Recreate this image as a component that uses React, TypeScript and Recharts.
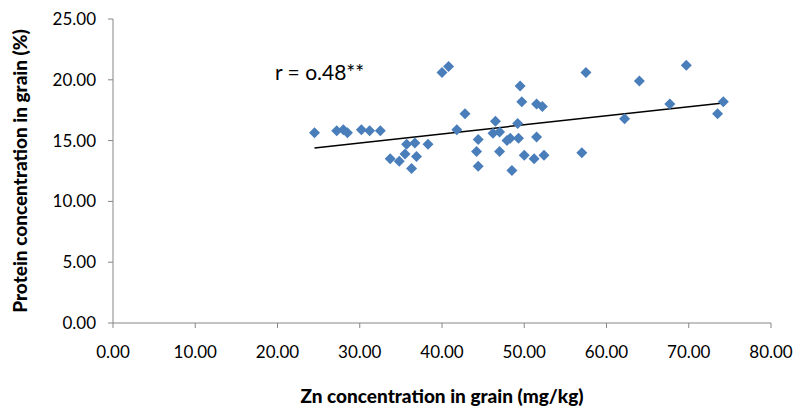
import { ScatterChart, Scatter, XAxis, YAxis, ReferenceLine } from 'recharts'

// Zn in grain (mg/kg) vs protein in grain (%)
const zn = [
  24.5, 27.2, 28.0, 28.5, 30.2, 31.2, 32.5, 33.7, 34.8, 35.5,
  35.7, 36.3, 36.7, 36.9, 38.3, 40.0, 40.8, 41.8, 42.8, 44.2,
  44.4, 44.4, 46.2, 46.5, 47.0, 47.0, 47.9, 48.3, 48.5, 49.2,
  49.3, 49.5, 49.7, 50.0, 51.2, 51.5, 51.5, 52.2, 52.4, 57.0,
  57.5, 62.2, 64.0, 67.7, 69.7, 73.5, 74.2,
]
const protein = [
  15.65, 15.8, 15.9, 15.65, 15.9, 15.8, 15.8, 13.5, 13.3, 13.9,
  14.7, 12.7, 14.8, 13.7, 14.7, 20.6, 21.1, 15.9, 17.2, 14.1,
  15.1, 12.9, 15.6, 16.6, 15.7, 14.1, 15.0, 15.2, 12.55, 16.4,
  15.2, 19.5, 18.2, 13.8, 13.5, 15.3, 18.0, 17.8, 13.8, 14.0,
  20.6, 16.8, 19.9, 18.0, 21.2, 17.2, 18.2,
]

// linear trend end points
const trendX = [24.5, 74.2]
const trendY = [14.4, 18.1]

const xTicks = [0, 10, 20, 30, 40, 50, 60, 70, 80]
const yTicks = [0, 5, 10, 15, 20, 25]

const points = zn.map((x, i) => ({ x, y: protein[i] }))

const FONT = 'Lato, "Open Sans", sans-serif'
const AXIS = '#868686'

function Diamond(props: { cx?: number; cy?: number }) {
  const { cx = 0, cy = 0 } = props
  const r = 5.5
  return (
    <polygon
      points={`${cx},${cy - r} ${cx + r},${cy} ${cx},${cy + r} ${cx - r},${cy}`}
      fill="#4A7EBB"
    />
  )
}

export default function App() {
  return (
    <div style={{ position: 'absolute', left: 0, top: 0, width: 800, height: 408, background: '#fff', fontFamily: FONT }}>
      <ScatterChart width={800} height={408} margin={{ top: 19, right: 29, left: 0, bottom: 0 }}>
        <XAxis
          type="number"
          dataKey="x"
          domain={[0, 80]}
          ticks={xTicks}
          tickFormatter={(v: number) => v.toFixed(2)}
          stroke={AXIS}
          tickSize={5}
          tickMargin={18}
          height={85}
          tick={{ fontSize: 17, fill: '#000', fontFamily: FONT }}
          label={{
            value: 'Zn concentration in grain (mg/kg)',
            position: 'insideBottom',
            offset: 5,
            style: { fontSize: 19, fontWeight: 900, fill: '#000', fontFamily: FONT },
          }}
        />
        <YAxis
          type="number"
          dataKey="y"
          domain={[0, 25]}
          ticks={yTicks}
          tickFormatter={(v: number) => v.toFixed(2)}
          stroke={AXIS}
          tickSize={5}
          tickMargin={12}
          width={113}
          tick={{ fontSize: 17, fill: '#000', fontFamily: FONT }}
          label={{
            value: 'Protein concentration in grain (%)',
            angle: -90,
            position: 'insideLeft',
            offset: 0,
            dx: 20,
            style: { textAnchor: 'middle', fontSize: 19, fontWeight: 900, fill: '#000', fontFamily: FONT },
          }}
        />
        <ReferenceLine
          segment={[
            { x: trendX[0], y: trendY[0] },
            { x: trendX[1], y: trendY[1] },
          ]}
          stroke="#000"
          strokeWidth={1.5}
          ifOverflow="visible"
        />
        <Scatter data={points} shape={<Diamond />} isAnimationActive={false} />
      </ScatterChart>
      <div style={{ position: 'absolute', left: 275, top: 59, fontSize: 21, color: '#000', whiteSpace: 'nowrap' }}>
        r = o.48**
      </div>
    </div>
  )
}
